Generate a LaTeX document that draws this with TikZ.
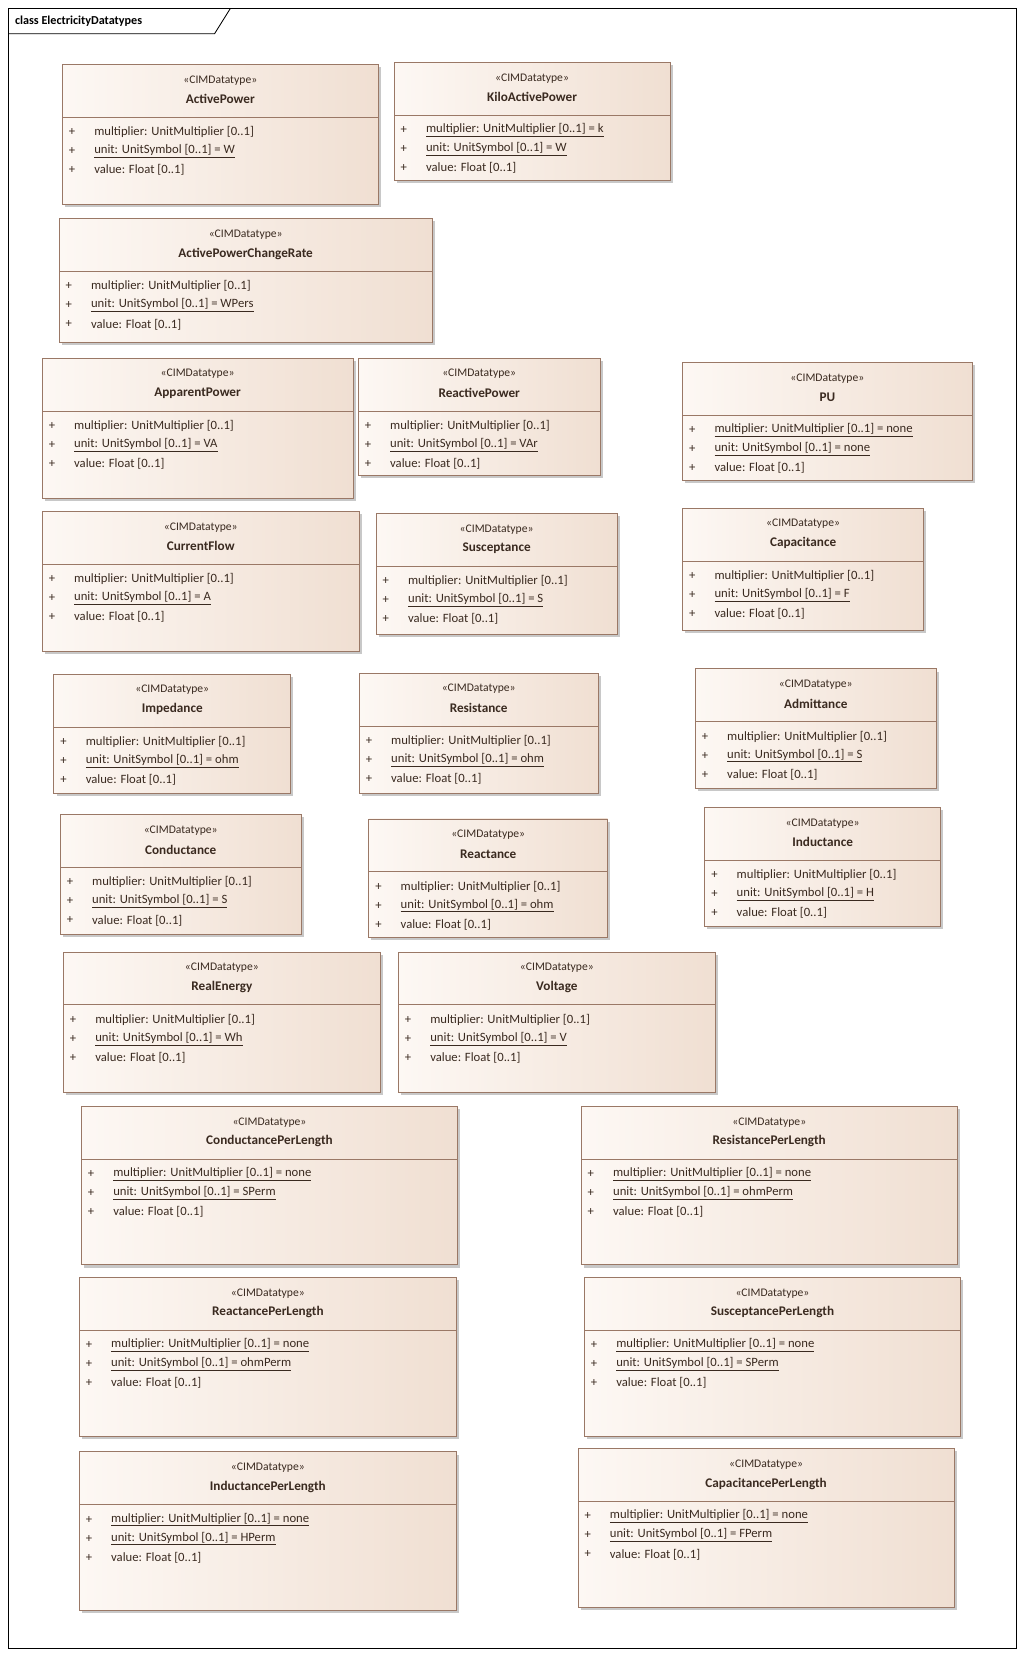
\documentclass[tikz,border=0pt]{standalone}
\usepackage{fontspec}
\setmainfont{Carlito}
\usetikzlibrary{shadows}
\definecolor{bord}{HTML}{9A7866}
\definecolor{fillL}{HTML}{FDF8F4}
\definecolor{fillR}{HTML}{F0DFD2}
\definecolor{txt}{HTML}{3A2A20}
\tikzset{
 box/.style={draw=bord,line width=0.8pt,left color=fillL,right color=fillR,inner sep=0pt,
   drop shadow={shadow xshift=2.5pt,shadow yshift=-2.5pt,fill=gray!60,opacity=.7}},
 stereo/.style={font=\fontsize{11}{12}\selectfont,text=txt,inner sep=0pt},
 cname/.style={font=\fontsize{12.5}{13}\selectfont\bfseries,text=txt,inner sep=0pt},
 attr/.style={font=\fontsize{12}{13}\selectfont,text=txt,inner sep=0pt,anchor=west},
}
\newcommand\dt[9]{%
 \node[box,minimum width={#4pt-#2pt},minimum height={#5pt-#3pt}] (#1) at ({(#2+#4)/2},{(#3+#5)/2}) {};
 \draw[bord,line width=0.8pt] (#2,#3+50) -- (#4,#3+50);
 \node[stereo] (#1s) at ({(#2+#4)/2},#3+15) {«CIMDatatype»};
 \node[cname] (#1n) at ({(#2+#4)/2},#3+33) {#6};
 \node[attr] (#1p1) at (#2+6,#3+64) {+};
 \node[attr] (#1p2) at (#2+6,#3+82) {+};
 \node[attr] (#1p3) at (#2+6,#3+100) {+};
 \node[attr] (#1a1) at (#2+30,#3+64) {#7};
 \node[attr] (#1a2) at (#2+30,#3+82) {#8};
 \node[attr] (#1a3) at (#2+30,#3+100) {#9};
}
\newcommand\mult{multiplier: UnitMultiplier [0..1]}
\newcommand\val{value: Float [0..1]}
\newcommand\un[1]{\underline{unit: UnitSymbol [0..1] = #1}}
\newcommand\mn{\underline{multiplier: UnitMultiplier [0..1] = none}}
\begin{document}
\begin{tikzpicture}[x=1pt,y=-1pt]
\useasboundingbox[fill=white] (0,0) rectangle (970,1570);
\draw[black,line width=0.8pt] (8,8) rectangle (962,1560);
\draw[black,line width=0.8pt] (8,32) -- (203,32) -- (218,8);
\node[anchor=west,inner sep=0pt,font=\fontsize{11.5}{12}\selectfont\bfseries] (title) at (14,20) {class ElectricityDatatypes};
\dt{ap}{59}{61}{358}{193}{ActivePower}{\mult}{\un{W}}{\val}
\dt{kap}{373}{59}{634}{171}{KiloActivePower}{\underline{multiplier: UnitMultiplier [0..1] = k}}{\un{W}}{\val}
\dt{apcr}{56}{207}{409}{324}{ActivePowerChangeRate}{\mult}{\un{WPers}}{\val}
\dt{app}{40}{339}{334}{472}{ApparentPower}{\mult}{\un{VA}}{\val}
\dt{rp}{339}{339}{568}{450}{ReactivePower}{\mult}{\un{VAr}}{\val}
\dt{pu}{646}{343}{920}{455}{PU}{\mn}{\un{none}}{\val}
\dt{cf}{40}{484}{340}{616}{CurrentFlow}{\mult}{\un{A}}{\val}
\dt{sus}{356}{486}{584}{600}{Susceptance}{\mult}{\un{S}}{\val}
\dt{cap}{646}{481}{874}{597}{Capacitance}{\mult}{\un{F}}{\val}
\dt{imp}{51}{638}{275}{751}{Impedance}{\mult}{\un{ohm}}{\val}
\dt{res}{340}{637}{566}{751}{Resistance}{\mult}{\un{ohm}}{\val}
\dt{adm}{658}{633}{886}{746}{Admittance}{\mult}{\un{S}}{\val}
\dt{con}{57}{771}{285}{884}{Conductance}{\mult}{\un{S}}{\val}
\dt{rea}{349}{775}{575}{887}{Reactance}{\mult}{\un{ohm}}{\val}
\dt{ind}{667}{764}{890}{877}{Inductance}{\mult}{\un{H}}{\val}
\dt{re}{60}{901}{360}{1034}{RealEnergy}{\mult}{\un{Wh}}{\val}
\dt{vol}{377}{901}{677}{1034}{Voltage}{\mult}{\un{V}}{\val}
\dt{cpl}{77}{1047}{433}{1197}{ConductancePerLength}{\mn}{\un{SPerm}}{\val}
\dt{rpl}{550}{1047}{906}{1197}{ResistancePerLength}{\mn}{\un{ohmPerm}}{\val}
\dt{xpl}{75}{1209}{432}{1359}{ReactancePerLength}{\mn}{\un{ohmPerm}}{\val}
\dt{bpl}{553}{1209}{909}{1359}{SusceptancePerLength}{\mn}{\un{SPerm}}{\val}
\dt{lpl}{75}{1374}{432}{1524}{InductancePerLength}{\mn}{\un{HPerm}}{\val}
\dt{cppl}{547}{1371}{903}{1521}{CapacitancePerLength}{\mn}{\un{FPerm}}{\val}
\end{tikzpicture}
\end{document}
